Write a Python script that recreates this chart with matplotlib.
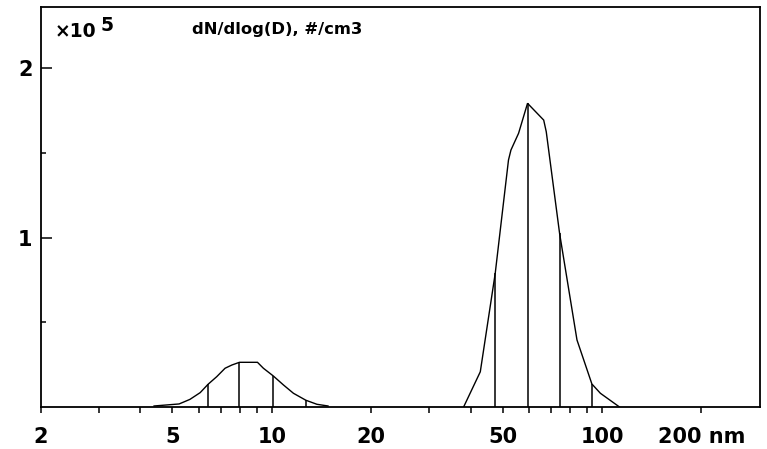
import numpy as np
import matplotlib
matplotlib.use("Agg")
import matplotlib.pyplot as plt

# ---- data (diameter in nm, dN/dlog(D) in units of 1e5 #/cm3) ----
small_d = [4.4, 5.24, 5.65, 6.07, 6.41, 6.81, 7.22, 7.57, 7.98, 9.05, 9.43,
           10.11, 10.85, 11.63, 12.68, 13.7, 14.8]
small_v = [0.006, 0.018, 0.045, 0.085, 0.134, 0.179, 0.229, 0.248, 0.264, 0.264,
           0.229, 0.183, 0.130, 0.081, 0.040, 0.016, 0.006]
large_d = [38.1, 42.8, 47.5, 49.2, 52.1, 53.0, 55.9, 59.5, 66.6, 67.8, 74.4,
           84.0, 93.2, 98.9, 113.0]
large_v = [0.0, 0.208, 0.79, 1.045, 1.459, 1.518, 1.617, 1.794, 1.695, 1.626,
           1.026, 0.396, 0.136, 0.081, 0.0]
drop_d = [6.41, 7.98, 10.11, 12.68, 47.5, 59.5, 74.4, 93.2]

xtick_major = [2, 5, 10, 20, 50, 100, 200]
xtick_labels = ["2", "5", "10", "20", "50", "100", "200 nm"]
xtick_minor = [3, 4, 6, 7, 8, 9, 30, 40, 60, 70, 80, 90]
ytick_major = [1, 2]
ytick_minor = [0.5, 1.5]

FONT = "DejaVu Sans"

fig = plt.figure(figsize=(7.67, 4.49), dpi=100)
ax = fig.add_axes([41 / 767, 1 - 407 / 449, (760 - 41) / 767, (407 - 7) / 449])

d_all = np.array(small_d + large_d)
v_all = np.array(small_v + large_v)
ax.plot(small_d, small_v, color="black", lw=1.0, solid_joinstyle="miter")
ax.plot(large_d, large_v, color="black", lw=1.0, solid_joinstyle="miter")

drop_h = np.interp(np.log10(drop_d), np.log10(d_all), v_all)
ax.vlines(drop_d, 0, drop_h, color="black", lw=1.1)

ax.set_xscale("log")
ax.set_xlim(2, 301)
ax.set_ylim(0, 2.363)

ax.set_xticks(xtick_major)
ax.set_xticklabels(xtick_labels)
ax.set_xticks(xtick_minor, minor=True)
ax.xaxis.set_minor_formatter(matplotlib.ticker.NullFormatter())
ax.set_yticks(ytick_major)
ax.set_yticklabels([str(t) for t in ytick_major])
ax.set_yticks(ytick_minor, minor=True)
ax.yaxis.set_minor_formatter(matplotlib.ticker.NullFormatter())

ax.tick_params(axis="x", which="both", direction="out", length=4.5, width=1.1,
               top=False, pad=10, labelsize=15, colors="black")
ax.tick_params(axis="y", which="major", direction="in", length=8, width=1.1,
               right=False, pad=6, labelsize=15)
ax.tick_params(axis="y", which="minor", direction="in", length=3.5, width=1.1,
               right=False)
for lab in ax.get_xticklabels() + ax.get_yticklabels():
    lab.set_fontfamily(FONT)
    lab.set_fontweight("bold")

for s in ax.spines.values():
    s.set_linewidth(1.3)
    s.set_color("black")

fig.text(55 / 767, 1 - 37 / 449, "×10", fontsize=13.5, fontfamily=FONT,
         fontweight="bold", ha="left", va="baseline")
fig.text(101 / 767, 1 - 31 / 449, "5", fontsize=13.5, fontfamily=FONT,
         fontweight="bold", ha="left", va="baseline")
fig.text(192 / 767, 1 - 34 / 449, "dN/dlog(D), #/cm3", fontsize=11.8,
         fontfamily=FONT, fontweight="bold", ha="left", va="baseline")

fig.savefig("out.png", dpi=100)
